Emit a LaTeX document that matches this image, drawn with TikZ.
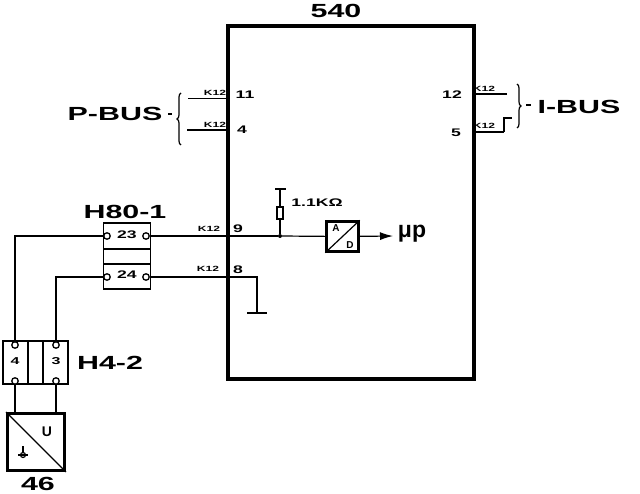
\documentclass[tikz,border=0pt]{standalone}
\usepackage{fontspec}
\setmainfont{Liberation Sans}
\newfontfamily\widefont[FakeStretch=1.6]{Liberation Sans}
\usetikzlibrary{decorations.pathreplacing,arrows.meta}
\tikzset{
    wire/.style={line width=1.2pt},
    heavywire/.style={line width=1.6pt},
    boxpart/.style={draw,line width=1.6pt,inner sep=0pt,outer sep=0pt},
    term/.style={circle,draw,fill=white,line width=1.3pt,inner sep=0pt,minimum size=6.5pt},
    pin/.style={font=\widefont\bfseries\fontsize{11}{11}\selectfont,inner sep=0pt},
    kay/.style={font=\widefont\bfseries\fontsize{7.5}{7.5}\selectfont,inner sep=0pt},
    tag/.style={font=\widefont\bfseries\fontsize{19}{19}\selectfont,inner sep=0pt},
    dot/.style={circle,fill=black,inner sep=0pt,minimum size=4pt}
}
\begin{document}
\begin{tikzpicture}[x=1pt,y=-1pt]
    \useasboundingbox (0,0) rectangle (640,494);

    % control unit
    \node[draw,line width=3.5pt,inner sep=0pt,minimum width=246pt,minimum height=353pt] (unit) at (351,202.5) {};
    \node[tag] (unitname) at (336,11) {540};

    \node[kay] (kp1) at (215,93) {K12};
    \node[kay] (kp2) at (215,125) {K12};
    \node[pin] (p11) at (245,95) {11};
    \node[pin] (p4) at (242,130) {4};
    \node[kay] (ki1) at (484,89) {K12};
    \node[kay] (ki2) at (484,126) {K12};
    \node[pin] (p12) at (452,95) {12};
    \node[pin] (p5) at (456,133) {5};
    \node[kay] (k9) at (209,229) {K12};
    \node[kay] (k8) at (208,269) {K12};
    \node[pin] (p9) at (238,229) {9};
    \node[pin] (p8) at (238,270) {8};

    % P-BUS and I-BUS
    \node[tag] (pbus) at (115,114) {P-BUS};
    \node[tag] (ibus) at (579,107) {I-BUS};
    \coordinate (pa) at (188,98.5);
    \coordinate (pb) at (187,130);
    \coordinate (ia) at (507,94);
    \coordinate (ib) at (512,118);
    \coordinate (ic) at (504,132);
    \draw[wire] (pa) -- (pa -| unit.west);
    \draw[heavywire] (pb) -- (pb -| unit.west);
    \draw[wire] (ia) -- (ia -| unit.east);
    \draw[heavywire] (ic -| unit.east) -- (ic);
    \draw[wire] (ic) |- (ib);
    \draw[wire,decorate,decoration={brace,amplitude=4pt,mirror}] (181,93) -- (181,145);
    \draw[wire,decorate,decoration={brace,amplitude=4pt}] (517,84) -- (517,128);
    \draw[wire] (168,114) -- (172,114);
    \draw[wire] (526,105) -- (531,105);

    % connector H80-1
    \node[boxpart,minimum width=47pt,minimum height=66pt] (hbox) at (127,256) {};
    \node[tag] (hname) at (125,212) {H80-1};
    \draw[boxpart] (hbox.west |- 0,249) -- (hbox.east |- 0,249);
    \draw[boxpart] (hbox.west |- 0,264) -- (hbox.east |- 0,264);
    \node[pin] (n23) at (127,235) {23};
    \node[pin] (n24) at (127,275) {24};
    \node[term] (t23l) at (107,236) {};
    \node[term] (t23r) at (146,236) {};
    \node[term] (t24l) at (107,277) {};
    \node[term] (t24r) at (146,277) {};

    % connector H4-2
    \node[boxpart,minimum width=65pt,minimum height=43pt] (gbox) at (35.5,362.5) {};
    \node[tag] (gname) at (110,363) {H4-2};
    \draw[boxpart] (28,341) -- (28,384);
    \draw[line width=2pt] (43,341) -- (43,384);
    \node[font=\widefont\bfseries\fontsize{10}{10}\selectfont,inner sep=0pt] (n4) at (15,361) {4};
    \node[font=\widefont\bfseries\fontsize{10}{10}\selectfont,inner sep=0pt] (n3) at (56,361) {3};
    \node[term] (t4a) at (15,345) {};
    \node[term] (t3a) at (56,345) {};
    \node[term] (t4b) at (15,381) {};
    \node[term] (t3b) at (56,381) {};

    % sensor
    \node[draw,line width=2.8pt,inner sep=0pt,minimum width=57pt,minimum height=57pt] (sensor) at (36,442) {};
    \node[tag] (sname) at (38,483.5) {46};
    \draw[wire] (sensor.north west) -- (sensor.south east);
    \node[font=\bfseries\fontsize{14}{14}\selectfont,inner sep=0pt] (su) at (47,432) {U};
    \node[circle,draw,line width=1.2pt,inner sep=0pt,minimum size=5pt] (sgnd) at (23,455) {};
    \coordinate (sgndtop) at (23,446);
    \coordinate (sgl) at (18,455);
    \coordinate (sgr) at (28,455);
    \draw[wire] (sgndtop) -- (sgnd);
    \draw[wire] (sgl) -- (sgr);

    % analog input
    \node[draw,line width=2.4pt,inner sep=0pt,minimum width=32pt,minimum height=30pt] (adc) at (342.5,236.5) {};
    \draw[wire] (adc.south west) -- (adc.north east);
    \node[font=\bfseries\fontsize{10}{10}\selectfont,inner sep=0pt] (ada) at (336,228) {A};
    \node[font=\bfseries\fontsize{10}{10}\selectfont,inner sep=0pt] (add) at (350,245) {D};
    \node[font=\bfseries\fontsize{23}{23}\selectfont,inner sep=0pt] (mup) at (412,234) {μp};
    \node[dot] (junction) at (280,236) {};
    \node[draw,fill=white,line width=1.2pt,inner sep=0pt,minimum width=6pt,minimum height=12pt] (res) at (280,213) {};
    \coordinate (restop) at (280,189);
    \coordinate (rl) at (275,189);
    \coordinate (rr) at (286,189);
    \node[font=\widefont\bfseries\fontsize{11}{11}\selectfont,inner sep=0pt] (resval) at (317,203) {1.1KΩ};
    \draw[wire] (junction) -- (res);
    \draw[wire] (res) -- (restop);
    \draw[line width=2pt] (rl) -- (rr);
    \draw[wire] (t23r) -- (junction);
    \draw[wire] (junction) -- (adc);
    \draw[wire,-{Latex[length=13pt,width=8pt]}] (adc) -- (393,236);

    % wiring
    \coordinate (gndtop) at (257,313);
    \coordinate (gl) at (247,313);
    \coordinate (gr) at (267,313);
    \draw[heavywire] (t24r) -| (gndtop);
    \draw[wire] (gl) -- (gr);
    \draw[wire] (t23l) -| (t4a);
    \draw[heavywire] (t24l) -| (t3a);
    \draw[line width=2pt] (t4b) -- (t4b |- sensor.north);
    \draw[wire] (t3b) -- (t3b |- sensor.north);
\end{tikzpicture}
\end{document}
